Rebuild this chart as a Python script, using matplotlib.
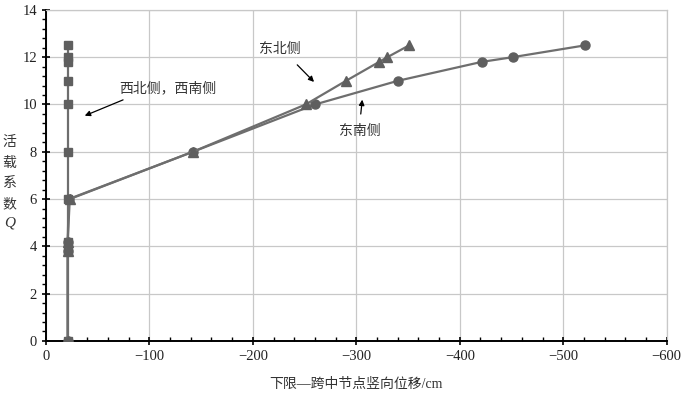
import matplotlib.pyplot as plt
from matplotlib.ticker import MultipleLocator

plt.rcParams['font.family'] = ['Liberation Serif', 'Noto Sans CJK SC']

# 荷载系数 Q 与下限跨中节点竖向位移 (cm)
q_west = [0, 3.8, 4.2, 6, 8, 10, 11, 11.8, 12, 12.5]
d_west = [-21, -21, -21, -21, -21, -21, -21, -21, -21, -21]

q_ne = [0, 3.8, 4.2, 6, 8, 10, 11, 11.8, 12, 12.5]
d_ne = [-21, -21, -21, -23, -142, -251, -290, -322, -330, -351]

q_se = [0, 3.8, 4.2, 6, 8, 10, 11, 11.8, 12, 12.5]
d_se = [-21, -21, -21, -22, -142, -260, -340, -421, -451, -521]

xticks = [0, -100, -200, -300, -400, -500, -600]
yticks = [0, 2, 4, 6, 8, 10, 12, 14]

fig = plt.figure(figsize=(6.81, 3.96), dpi=100)
ax = fig.add_axes([0.0675, 0.139, 0.9115, 0.836])

c_line = '#6e6e6e'
c_mark = '#5f5f5f'
ax.plot(d_west, q_west, color=c_line, lw=1.6, marker='s', ms=6, mfc=c_mark, mec=c_mark, zorder=3)
ax.plot(d_se, q_se, color=c_line, lw=1.6, marker='o', ms=6.5, mfc=c_mark, mec=c_mark, zorder=4)
ax.plot(d_ne, q_ne, color=c_line, lw=1.6, marker='^', ms=7, mfc=c_mark, mec=c_mark, zorder=5)

ax.set_xlim(0, -600)
ax.set_ylim(0, 14)
ax.set_xticks(xticks)
ax.set_yticks(yticks)
ax.set_xticklabels(['0' if v == 0 else '\u2212' + str(-v) for v in xticks],
                   fontsize=10.5, color='#222222')
ax.set_yticklabels([str(v) for v in yticks], fontsize=10.5, color='#222222')
ax.xaxis.set_minor_locator(MultipleLocator(20))
ax.yaxis.set_minor_locator(MultipleLocator(0.4))
ax.tick_params(which='major', direction='inout', length=6, width=1.2, color='black')
ax.tick_params(axis='y', which='minor', direction='out', length=3, width=1, color='black')
ax.tick_params(axis='x', which='minor', direction='in', length=3, width=1, color='black')
ax.grid(True, which='major', color='#c8c8c8', lw=0.9)
ax.set_axisbelow(True)

for s in ['left', 'bottom']:
    ax.spines[s].set_linewidth(1.4)
    ax.spines[s].set_color('black')
for s in ['top', 'right']:
    ax.spines[s].set_color('#c8c8c8')
    ax.spines[s].set_linewidth(0.9)

ax.set_xlabel('下限—跨中节点竖向位移/cm', fontsize=10, color='#333333', labelpad=11)
for i, ch in enumerate('活载系数'):
    fig.text(0.014, 1 - (142 + i * 21) / 396, ch, fontsize=10, color='#333333',
             ha='center', va='center')
fig.text(0.014, 1 - 223 / 396, 'Q', fontsize=11, style='italic',
         color='#333333', ha='center', va='center')

arrow = dict(arrowstyle='-|>', color='black', lw=0.9, mutation_scale=8)
ax.annotate('', xy=(-35, 9.48), xytext=(-77, 10.24), arrowprops=arrow)
ax.text(-71, 10.7, '西北侧，西南侧', fontsize=10, color='#333333', va='center')
ax.annotate('', xy=(-261, 10.87), xytext=(-241, 11.76), arrowprops=arrow)
ax.text(-226, 12.35, '东北侧', fontsize=10, color='#333333', va='center', ha='center')
ax.annotate('', xy=(-306, 10.32), xytext=(-304, 9.48), arrowprops=arrow)
ax.text(-303, 8.85, '东南侧', fontsize=10, color='#333333', va='center', ha='center')

fig.savefig('out.png', dpi=100)
